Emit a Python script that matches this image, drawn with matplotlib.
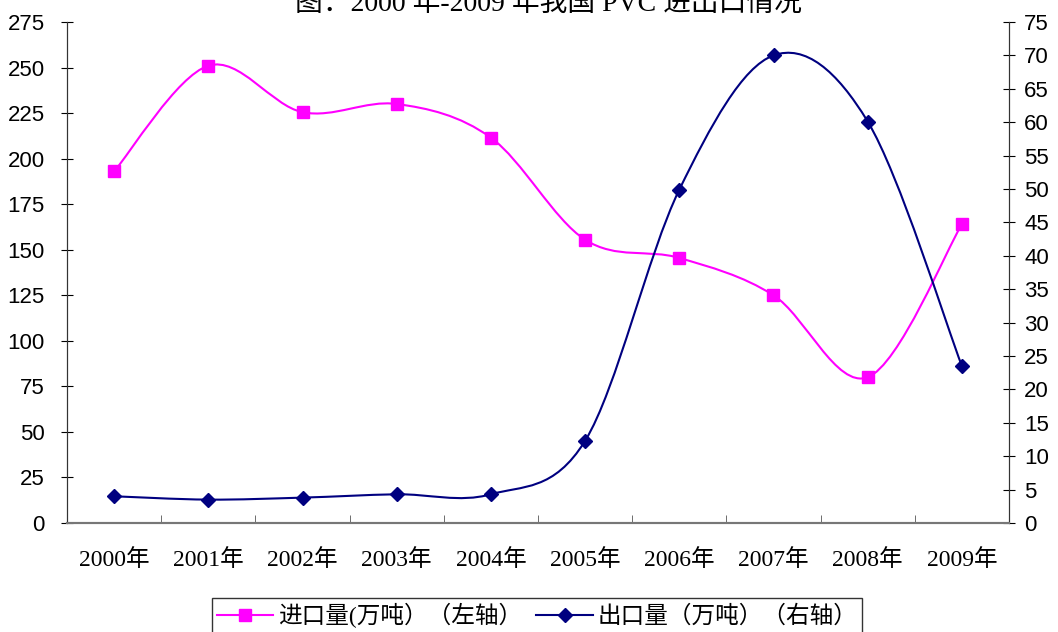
import matplotlib
matplotlib.use('Agg')
import matplotlib.pyplot as plt
from matplotlib.path import Path
from matplotlib.patches import PathPatch
from matplotlib.lines import Line2D
import numpy as np

years = ['2000年', '2001年', '2002年', '2003年', '2004年',
         '2005年', '2006年', '2007年', '2008年', '2009年']
imports = [193, 251, 225.5, 230, 211.5, 155.5, 145.5, 125, 80, 164]
exports = [4.0, 3.5, 3.8, 4.3, 4.3, 12.3, 49.9, 70.0, 60.1, 23.5]

serif_cjk = ['Liberation Serif', 'Noto Sans CJK SC']
pink = '#FF00FF'
navy = '#000080'


def smooth_path(xs, ys, t=1/6):
    # Excel-style smoothed line: cubic Bezier through every point
    pts = np.column_stack([xs, ys]).astype(float)
    n = len(pts)
    verts = [pts[0]]
    codes = [Path.MOVETO]
    for i in range(n - 1):
        p0 = pts[i - 1] if i > 0 else pts[i]
        p1 = pts[i]
        p2 = pts[i + 1]
        p3 = pts[i + 2] if i + 2 < n else pts[i + 1]
        verts += [p1 + (p2 - p0) * t, p2 - (p3 - p1) * t, p2]
        codes += [Path.CURVE4] * 3
    return Path(verts, codes)


fig = plt.figure(figsize=(10.58, 6.32), dpi=100)
ax = fig.add_axes([67 / 1058, 1 - 523 / 632, (1009 - 67) / 1058, (523 - 22) / 632])
ax2 = ax.twinx()

x = np.arange(len(years))

ax.add_patch(PathPatch(smooth_path(x, imports), facecolor='none', edgecolor=pink, lw=1.5))
ax.plot(x, imports, ls='none', marker='s', ms=8, color=pink)
ax2.add_patch(PathPatch(smooth_path(x, exports), facecolor='none', edgecolor=navy, lw=1.5))
ax2.plot(x, exports, ls='none', marker='D', ms=7.5, color=navy)

ax.set_xlim(-0.5, len(years) - 0.5)
ax.set_ylim(0, 275)
ax.set_yticks(np.arange(0, 276, 25))
ax2.set_ylim(0, 75)
ax2.set_yticks(np.arange(0, 76, 5))

ax.set_xticks(x)
ax.set_xticklabels(years, fontfamily=serif_cjk, fontsize=17)
ax.set_xticks(x[:-1] + 0.5, minor=True)
ax.tick_params(axis='x', which='major', length=0, pad=19)
ax.tick_params(axis='x', which='minor', direction='in', length=6, color='#555555')
ax.tick_params(axis='y', direction='inout', length=8, labelsize=16, pad=12)
ax2.tick_params(axis='y', direction='inout', length=8, labelsize=16, pad=7)
for a in (ax, ax2):
    for lab in a.get_yticklabels():
        lab.set_fontfamily('Liberation Sans')
    a.spines['top'].set_visible(False)
    for s in ('left', 'right', 'bottom'):
        a.spines[s].set_color('#333333')
    a.spines['bottom'].set_color('#777777')
    a.spines['bottom'].set_linewidth(1.5)

fig.text(548 / 1058, 1 - 4 / 632, '图：2000 年-2009 年我国 PVC 进出口情况',
         ha='center', va='center', fontsize=20, fontfamily=serif_cjk)

handles = [Line2D([], [], color=pink, lw=1.5, marker='s', ms=8),
           Line2D([], [], color=navy, lw=1.5, marker='D', ms=7.5)]
leg = fig.legend(handles, ['进口量(万吨）（左轴）', '出口量（万吨）（右轴）'],
                 loc='upper center', bbox_to_anchor=(537 / 1058, 1 - 598 / 632),
                 ncol=2, frameon=True, fancybox=False, edgecolor='black',
                 prop={'family': serif_cjk, 'size': 17}, handlelength=2.4,
                 handletextpad=0.2, columnspacing=0.6, borderpad=0.2,
                 borderaxespad=0)
leg.get_frame().set_linewidth(1.0)

fig.savefig('out.png', dpi=100)
